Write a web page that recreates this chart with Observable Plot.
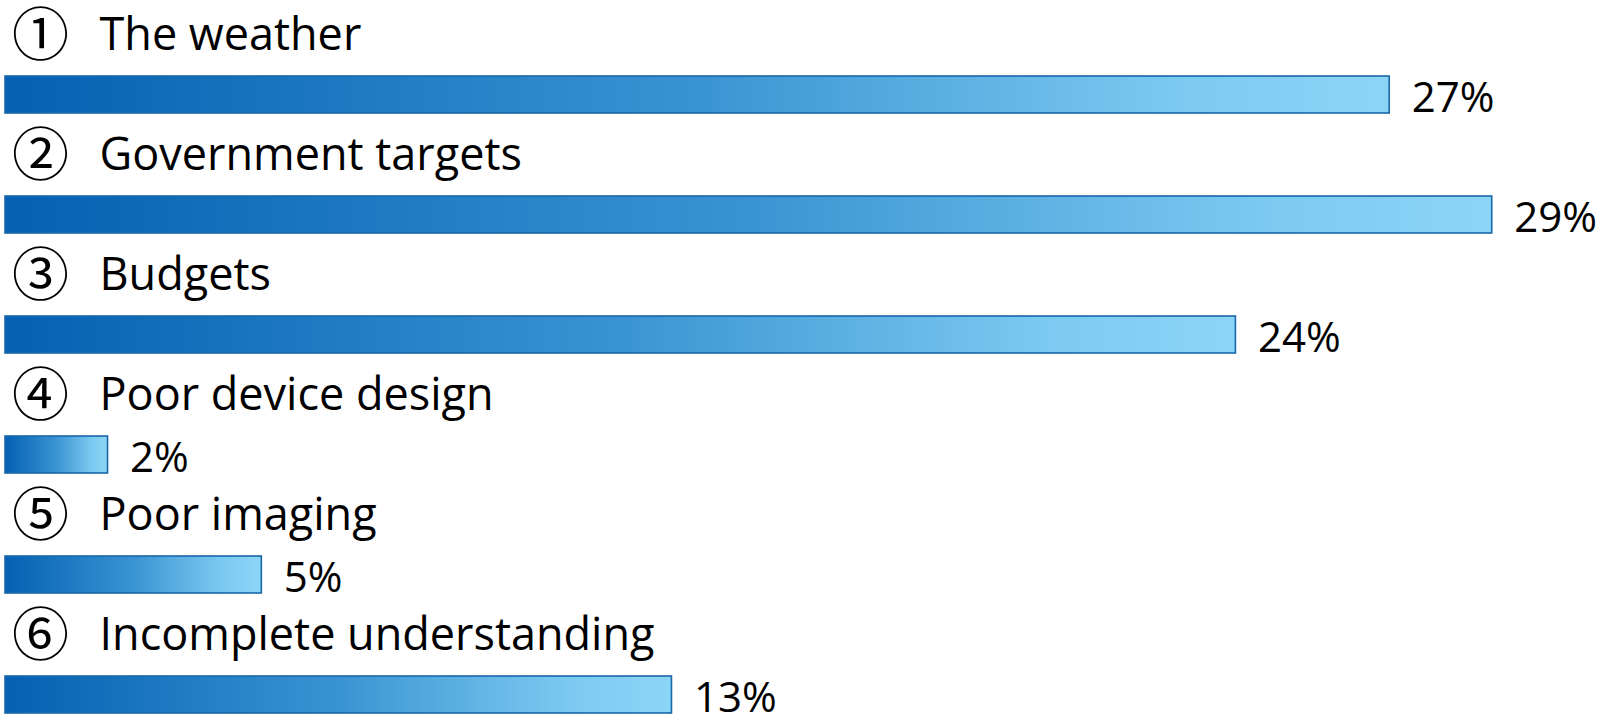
<!DOCTYPE html>
<html>
<head>
<meta charset="utf-8">
<script src="https://cdn.jsdelivr.net/npm/d3@7"></script>
<script src="https://cdn.jsdelivr.net/npm/@observablehq/plot@0.6"></script>
<style>
  html, body { margin: 0; padding: 0; background: #fff; }
  #chart svg { display: block; }
</style>
</head>
<body>
<div id="chart"></div>
<script>
const numbers = ["①", "②", "③", "④", "⑤", "⑥"];
const categories = ["The weather", "Government targets", "Budgets", "Poor device design", "Poor imaging", "Incomplete understanding"];
const values = [27, 29, 24, 2, 5, 13];
const valueLabels = ["27%", "29%", "24%", "2%", "5%", "13%"];

const data = categories.map((c, i) => ({num: numbers[i], category: c, value: values[i], label: valueLabels[i]}));

const chart = Plot.plot({
  width: 1603,
  height: 714,
  marginLeft: 5,
  marginRight: 60,
  marginTop: 76,
  marginBottom: 1,
  x: {domain: [0, 30], axis: null},
  y: {domain: categories, axis: null, paddingInner: 0.692, paddingOuter: 0},
  style: {fontFamily: "'Open Sans', sans-serif", background: "white"},
  marks: [
    Plot.barX(data, {
      x: "value", y: "category",
      fill: "url(#barGradient)", stroke: "#1a67a8", strokeWidth: 1.6
    }),
    Plot.text(data, {
      y: "category", text: "num", frameAnchor: "left", textAnchor: "start",
      lineAnchor: "middle", dx: 6.5, dy: -58,
      fontSize: 57, fontFamily: "'Noto Sans CJK JP', 'DejaVu Sans', sans-serif", fill: "#000"
    }),
    Plot.text(data, {
      y: "category", text: "category", frameAnchor: "left", textAnchor: "start",
      lineAnchor: "bottom", dx: 94, dy: -45.5,
      fontSize: 45, fill: "#000"
    }),
    Plot.text(data, {
      x: "value", y: "category", text: "label", textAnchor: "start",
      lineAnchor: "bottom", dx: 22, dy: 16.5,
      fontSize: 42, fill: "#000"
    })
  ]
});

const svg = d3.select(chart);
const defs = svg.insert("defs", ":first-child");
const grad = defs.append("linearGradient")
  .attr("id", "barGradient")
  .attr("x1", "0").attr("y1", "0").attr("x2", "1").attr("y2", "0");
[["0%", "#0460b2"], ["50%", "#3a93d2"], ["85%", "#7ccaf1"], ["100%", "#8bd5f7"]].forEach(([o, c]) => {
  grad.append("stop").attr("offset", o).attr("stop-color", c);
});

document.getElementById("chart").appendChild(chart);
</script>
</body>
</html>
